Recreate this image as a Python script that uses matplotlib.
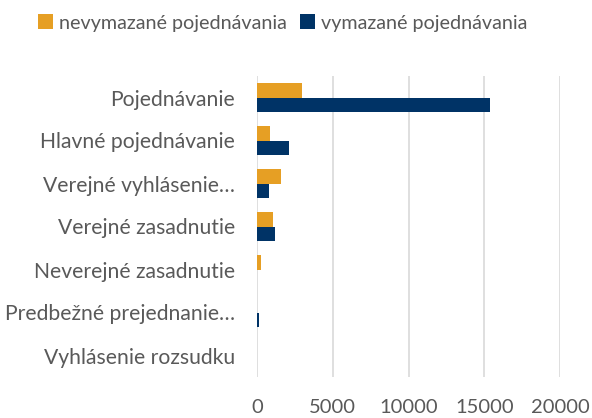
import numpy as np
import matplotlib.pyplot as plt

plt.rcParams['font.family'] = ['Lato', 'DejaVu Sans']

categories = ['Pojednávanie', 'Hlavné pojednávanie', 'Verejné vyhlásenie…',
              'Verejné zasadnutie', 'Neverejné zasadnutie',
              'Predbežné prejednanie…', 'Vyhlásenie rozsudku']
nevymazane = [2980, 855, 1555, 1070, 285, 0, 30]
vymazane = [15370, 2100, 790, 1160, 0, 120, 20]
xticks = [0, 5000, 10000, 15000, 20000]

orange = '#E69F24'
navy = '#003366'
gray = '#595959'

fig = plt.figure(figsize=(5.92, 4.18), dpi=100)
ax = fig.add_axes([257/592, 1 - 377/418, (560-257)/592, (377-76)/418])

y = np.arange(len(categories))
h = 0.33
ax.barh(y - h/2, nevymazane, height=h, color=orange, label='nevymazané pojednávania')
ax.barh(y + h/2, vymazane, height=h, color=navy, label='vymazané pojednávania')

ax.set_ylim(len(categories) - 0.5, -0.5)
ax.set_xlim(0, 20000)
ax.set_xticks(xticks)
ax.set_xticklabels([str(t) for t in xticks])
ax.set_yticks(y)
ax.set_yticklabels(categories)
ax.tick_params(axis='both', length=0, colors=gray)
ax.tick_params(axis='x', pad=16, labelsize=14.5)
ax.tick_params(axis='y', pad=16, labelsize=15.2)
ax.grid(axis='x', color='#D9D9D9', linewidth=1.2)
ax.set_axisbelow(True)
for s in ax.spines.values():
    s.set_visible(False)

fig.legend(loc='center left', bbox_to_anchor=(30/592, 1 - 23/418), ncol=2, frameon=False,
           fontsize=14.2, labelcolor=gray, handlelength=0.75, handleheight=0.75,
           handletextpad=0.3, columnspacing=0.7, borderaxespad=0)

fig.savefig('out.png', dpi=100)
